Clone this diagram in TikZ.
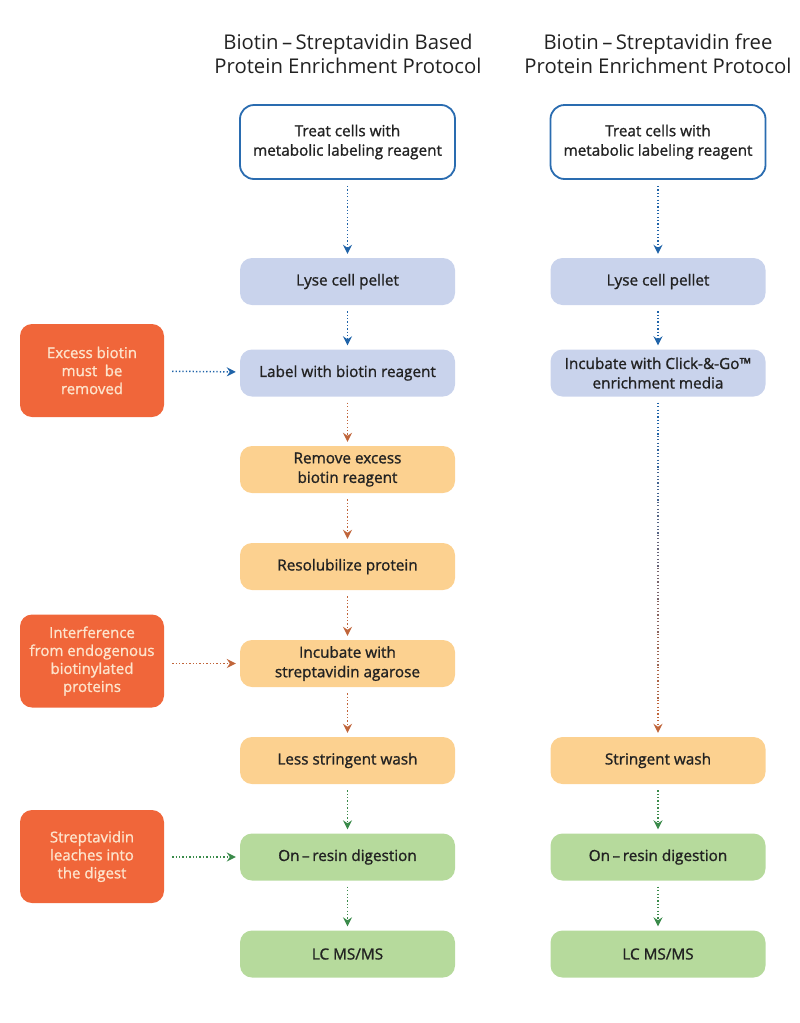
\documentclass[tikz,border=0pt]{standalone}
\usepackage{fontspec}
\setmainfont{Open Sans}
\newfontfamily\boxfont{Open Sans}[FakeBold=1.2]
\usetikzlibrary{arrows.meta,calc}
\definecolor{txt}{HTML}{222222}
\definecolor{boxblue}{HTML}{2A6CB0}
\definecolor{lav}{HTML}{C9D3EC}
\definecolor{peach}{HTML}{FCD190}
\definecolor{grn}{HTML}{B6DA9C}
\definecolor{orng}{HTML}{F0663A}
\definecolor{cream}{HTML}{FDE4CC}
\definecolor{blueA}{HTML}{1F63A8}
\definecolor{brownA}{HTML}{C0653A}
\definecolor{greenA}{HTML}{3A8A4A}
\begin{document}
\begin{tikzpicture}[x=1pt,y=-1pt,
  stepbox/.style={rounded corners=12pt, minimum width=215pt, minimum height=47pt, align=center,
    font=\boxfont\fontsize{15.3}{19.5}\selectfont, text=txt, inner sep=0pt},
  startbox/.style={stepbox, minimum height=74pt, draw=boxblue, line width=1.8pt, fill=white, rounded corners=14pt},
  lavbox/.style={stepbox, fill=lav},
  peachbox/.style={stepbox, fill=peach},
  grnbox/.style={stepbox, fill=grn},
  notebox/.style={rounded corners=12pt, minimum width=144pt, minimum height=93pt, align=center,
    fill=orng, text=cream, font=\boxfont\fontsize{15}{18}\selectfont, inner sep=0pt},
  titlenode/.style={align=center, text=txt, font=\fontsize{20.3}{24}\selectfont},
  dotline/.style={line width=1.5pt, dash pattern=on 1.3pt off 2.1pt},
  arr/.style={dotline, -{Stealth[length=9pt,width=9pt,inset=3pt]}, shorten <=6pt, shorten >=4pt},
  sarr/.style={dotline, -{Stealth[length=9pt,width=9pt,inset=3pt]}, shorten <=8pt, shorten >=4pt}
]
\useasboundingbox (0,0) rectangle (800,1023);

% titles
\node[titlenode] (tl) at (348,54) {Biotin\,–\,Streptavidin Based\\Protein Enrichment Protocol};
\node[titlenode] (tr) at (658,54) {Biotin\,–\,Streptavidin free\\Protein Enrichment Protocol};

% left column
\node[startbox] (t1) at (347.5,142) {Treat cells with\\metabolic labeling reagent};
\node[lavbox] (l1) at (347.5,281.5) {Lyse cell pellet};
\node[lavbox] (lb1) at (347.5,373) {Label with biotin reagent};
\node[peachbox] (r1) at (347.5,469.5) {Remove excess\\biotin reagent};
\node[peachbox] (rs1) at (347.5,566.5) {Resolubilize protein};
\node[peachbox] (i1) at (347.5,663.5) {Incubate with\\streptavidin agarose};
\node[peachbox] (w1) at (347.5,760.5) {Less stringent wash};
\node[grnbox] (o1) at (347.5,857) {On\,–\,resin digestion};
\node[grnbox] (m1) at (347.5,954) {LC MS/MS};

% right column
\node[startbox] (t2) at (658,142) {Treat cells with\\metabolic labeling reagent};
\node[lavbox] (l2) at (658,281.5) {Lyse cell pellet};
\node[lavbox] (i2) at (658,373) {Incubate with Click-\&-Go™\\enrichment media};
\node[peachbox] (w2) at (658,760.5) {Stringent wash};
\node[grnbox] (o2) at (658,857) {On\,–\,resin digestion};
\node[grnbox] (m2) at (658,954) {LC MS/MS};

% notes
\node[notebox] (n1) at (92,370.5) {Excess biotin\\must\enspace be\\removed};
\node[notebox] (n2) at (92,661) {Interference\\from endogenous\\biotinylated\\proteins};
\node[notebox] (n3) at (92,856.5) {Streptavidin\\leaches into\\the digest};

% left arrows
\draw[arr, blueA] (t1) -- (l1);
\draw[arr, blueA] (l1) -- (lb1);
\draw[arr, brownA] (lb1) -- (r1);
\draw[arr, brownA] (r1) -- (rs1);
\draw[arr, brownA] (rs1) -- (i1);
\draw[arr, brownA] (i1) -- (w1);
\draw[arr, greenA] (w1) -- (o1);
\draw[arr, greenA] (o1) -- (m1);

% right arrows
\draw[arr, blueA] (t2) -- (l2);
\draw[arr, blueA] (l2) -- (i2);
\coordinate (gA) at ([yshift=-6pt]i2.south);
\coordinate (gB) at ([yshift=4pt]w2.north);
\foreach \i in {0,...,8}{
  \pgfmathtruncatemacro{\p}{100-\i*11}
  \draw[dotline, color=blueA!\p!brownA] ($(gA)!\i/10!(gB)$) -- ($(gA)!{(\i+1)/10}!(gB)$);
}
\draw[dotline, brownA, -{Stealth[length=9pt,width=9pt,inset=3pt]}] ($(gA)!0.9!(gB)$) -- (gB);
\draw[arr, greenA] (w2) -- (o2);
\draw[arr, greenA] (o2) -- (m2);

% side arrows
\draw[sarr, blueA] (n1) -- (lb1);
\draw[sarr, brownA] (n2.east |- i1.west) -- (i1);
\draw[sarr, greenA] (n3.east |- o1.west) -- (o1);
\end{tikzpicture}
\end{document}
